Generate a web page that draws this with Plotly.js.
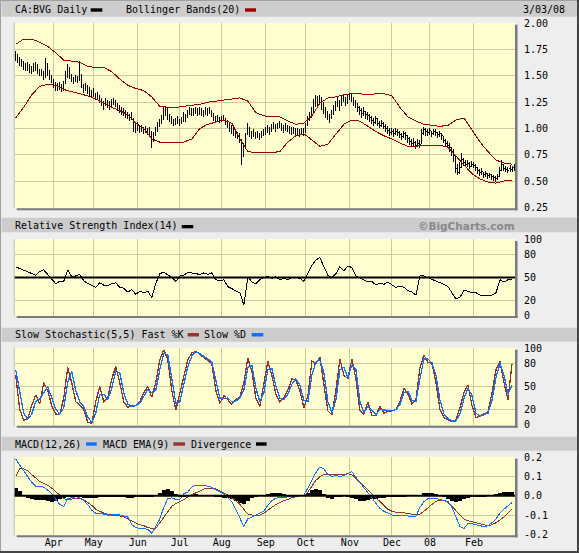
<!DOCTYPE html>
<html><head><meta charset="utf-8">
<script src="https://cdn.plot.ly/plotly-3.0.1.min.js"></script>
<style>html,body{margin:0;padding:0;background:#EEEEEE;}#chart{width:579px;height:553px;}
#chart .ohlclayer path, #chart .scatterlayer path.js-line{shape-rendering:crispEdges;}</style>
</head><body><div id="chart"></div>
<script>
// ---------- DATA ----------
const monthTickIdx = [19, 39, 61, 82, 103, 125, 145, 167, 188, 207, 229];
const monthTickText = ["Apr","May","Jun","Jul","Aug","Sep","Oct","Nov","Dec","08","Feb"];
const priceTicks = [0.25,0.5,0.75,1.0,1.25,1.5,1.75,2.0];
const priceTickText = ["0.25","0.50","0.75","1.00","1.25","1.50","1.75","2.00"];
const oscTicks = [0,20,50,80,100];
const oscTickText = ["0","20","50","80","100"];
const macdTicks = [-0.2,-0.1,0,0.1,0.2];
const macdTickText = ["-0.2","-0.1","0.0","0.1","0.2"];
const rsiMidLevel = 50;
const macdZeroLevel = 0;

const priceClose = [
1.70,1.66,1.63,1.62,1.60,1.58,1.60,1.56,1.55,1.58,
1.60,1.56,1.53,1.54,1.50,1.60,1.55,1.50,1.47,1.42,
1.40,1.39,1.41,1.38,1.40,1.50,1.57,1.52,1.48,1.45,
1.48,1.46,1.55,1.42,1.38,1.40,1.37,1.35,1.33,1.34,
1.30,1.31,1.28,1.25,1.22,1.25,1.23,1.22,1.24,1.26,
1.23,1.20,1.18,1.17,1.15,1.14,1.12,1.10,1.13,1.05,
1.00,1.03,0.99,1.00,0.98,0.99,0.97,0.98,0.88,0.93,
0.97,1.02,1.05,1.08,1.15,1.18,1.12,1.10,1.08,1.05,
1.06,1.08,1.05,1.07,1.12,1.10,1.14,1.17,1.15,1.16,
1.18,1.15,1.17,1.16,1.14,1.17,1.16,1.18,1.15,1.10,
1.09,1.11,1.08,1.09,1.10,1.07,1.04,1.01,0.99,0.97,
0.95,0.94,0.92,0.75,0.80,0.90,1.02,0.95,0.94,0.96,
0.93,0.95,0.92,0.94,0.96,0.98,1.00,0.97,1.01,1.03,
1.00,1.02,1.04,1.01,0.99,1.02,1.00,0.98,0.97,0.98,
0.96,0.97,0.95,0.97,0.96,1.02,1.08,1.12,1.15,1.22,
1.28,1.25,1.30,1.24,1.18,1.15,1.12,1.10,1.14,1.18,
1.22,1.25,1.22,1.28,1.30,1.25,1.28,1.32,1.30,1.26,
1.23,1.20,1.17,1.14,1.16,1.13,1.12,1.10,1.08,1.06,
1.09,1.05,1.03,1.05,1.02,1.00,0.98,0.96,0.97,0.95,
0.97,0.96,0.94,0.92,0.95,0.93,0.90,0.88,0.86,0.87,
0.84,0.86,0.85,0.95,0.99,0.97,0.96,0.98,0.95,0.97,
0.96,0.94,0.95,0.93,0.89,0.86,0.84,0.82,0.78,0.74,
0.62,0.58,0.63,0.70,0.68,0.66,0.67,0.64,0.66,0.65,
0.63,0.60,0.58,0.59,0.56,0.57,0.55,0.56,0.54,0.53,
0.52,0.54,0.60,0.66,0.62,0.61,0.60,0.62,0.61,0.63];
const priceHigh = [
1.74,1.71,1.68,1.66,1.64,1.62,1.63,1.61,1.59,1.62,
1.63,1.61,1.57,1.57,1.55,1.67,1.62,1.56,1.51,1.47,
1.44,1.43,1.44,1.42,1.45,1.55,1.61,1.58,1.52,1.49,
1.51,1.50,1.64,1.52,1.42,1.43,1.41,1.39,1.37,1.38,
1.34,1.35,1.32,1.29,1.26,1.29,1.27,1.26,1.28,1.29,
1.27,1.24,1.22,1.20,1.19,1.18,1.16,1.14,1.16,1.10,
1.06,1.06,1.03,1.03,1.01,1.02,1.00,1.01,0.98,0.97,
1.01,1.06,1.09,1.13,1.20,1.21,1.19,1.14,1.12,1.09,
1.10,1.12,1.09,1.11,1.16,1.14,1.18,1.20,1.19,1.19,
1.20,1.19,1.20,1.19,1.18,1.20,1.19,1.20,1.18,1.15,
1.12,1.13,1.11,1.12,1.13,1.10,1.08,1.05,1.03,1.01,
0.99,0.97,0.96,0.90,0.86,0.96,1.05,1.01,0.98,0.99,
0.97,0.98,0.96,0.98,0.99,1.01,1.03,1.01,1.04,1.06,
1.04,1.05,1.07,1.05,1.03,1.05,1.03,1.02,1.01,1.01,
1.00,1.00,0.99,1.00,1.00,1.05,1.12,1.16,1.20,1.28,
1.32,1.31,1.32,1.30,1.25,1.20,1.17,1.14,1.18,1.22,
1.26,1.30,1.27,1.32,1.33,1.30,1.32,1.34,1.34,1.30,
1.27,1.24,1.21,1.19,1.20,1.17,1.16,1.14,1.12,1.10,
1.12,1.10,1.07,1.08,1.06,1.04,1.02,1.00,1.00,0.99,
1.00,0.99,0.98,0.96,0.98,0.97,0.94,0.92,0.90,0.91,
0.88,0.90,0.89,0.99,1.01,1.00,0.99,1.00,0.98,0.99,
0.99,0.97,0.98,0.96,0.93,0.90,0.88,0.86,0.82,0.80,
0.75,0.66,0.68,0.77,0.72,0.70,0.70,0.68,0.69,0.68,
0.66,0.63,0.61,0.62,0.59,0.60,0.58,0.58,0.57,0.56,
0.55,0.57,0.63,0.70,0.66,0.64,0.63,0.65,0.64,0.66];
const priceLow = [
1.64,1.62,1.59,1.58,1.56,1.55,1.55,1.53,1.52,1.54,
1.55,1.52,1.50,1.50,1.46,1.48,1.50,1.46,1.43,1.38,
1.36,1.36,1.37,1.35,1.36,1.42,1.48,1.47,1.44,1.42,
1.44,1.43,1.45,1.38,1.34,1.36,1.33,1.31,1.29,1.30,
1.27,1.27,1.24,1.21,1.18,1.21,1.19,1.18,1.20,1.22,
1.20,1.17,1.15,1.13,1.12,1.10,1.09,1.07,1.08,0.97,
0.96,0.98,0.96,0.97,0.95,0.96,0.94,0.93,0.81,0.87,
0.93,0.97,1.01,1.04,1.08,1.12,1.08,1.06,1.04,1.02,
1.03,1.04,1.02,1.04,1.06,1.06,1.10,1.13,1.12,1.12,
1.14,1.12,1.13,1.12,1.11,1.13,1.12,1.14,1.11,1.07,
1.06,1.07,1.05,1.06,1.07,1.03,1.00,0.97,0.95,0.93,
0.91,0.90,0.86,0.65,0.73,0.82,0.94,0.92,0.90,0.92,
0.90,0.91,0.89,0.91,0.93,0.94,0.96,0.94,0.97,0.99,
0.97,0.99,1.00,0.98,0.96,0.98,0.97,0.95,0.94,0.95,
0.93,0.94,0.92,0.94,0.93,0.96,1.02,1.07,1.10,1.14,
1.20,1.20,1.24,1.18,1.14,1.10,1.08,1.05,1.09,1.13,
1.17,1.20,1.17,1.21,1.25,1.21,1.23,1.27,1.25,1.21,
1.19,1.16,1.13,1.10,1.12,1.09,1.08,1.06,1.04,1.02,
1.04,1.02,1.00,1.01,0.99,0.97,0.95,0.93,0.94,0.92,
0.94,0.93,0.91,0.89,0.91,0.89,0.86,0.84,0.82,0.83,
0.80,0.82,0.81,0.85,0.94,0.93,0.93,0.94,0.92,0.94,
0.93,0.91,0.92,0.89,0.86,0.83,0.81,0.78,0.74,0.68,
0.58,0.56,0.57,0.62,0.64,0.63,0.63,0.61,0.63,0.62,
0.60,0.57,0.55,0.56,0.53,0.54,0.52,0.53,0.51,0.50,
0.49,0.51,0.54,0.60,0.60,0.59,0.58,0.59,0.59,0.60];

// Bollinger bands, one reading every 4 trading days
const bbUpper = [1.80,1.85,1.85,1.82,1.78,1.72,1.65,1.64,1.63,1.59,1.58,1.58,1.54,1.47,1.41,1.38,1.36,1.30,1.21,1.20,
1.20,1.21,1.22,1.23,1.25,1.26,1.27,1.28,1.29,1.26,1.15,1.12,1.11,1.11,1.07,1.04,1.05,1.12,1.24,1.29,
1.30,1.32,1.33,1.33,1.32,1.33,1.33,1.31,1.20,1.11,1.07,1.04,1.03,1.02,1.03,1.08,1.10,0.99,0.87,0.78,
0.70,0.67,0.66];
const bbLower = [1.10,1.20,1.32,1.40,1.42,1.41,1.37,1.35,1.33,1.31,1.28,1.24,1.20,1.17,1.13,1.05,1.00,0.90,0.87,0.87,
0.87,0.87,0.90,1.00,1.04,1.06,1.08,1.05,0.90,0.78,0.77,0.77,0.77,0.78,0.87,0.93,0.95,0.89,0.83,0.85,
0.95,1.04,1.08,1.07,1.02,0.97,0.93,0.90,0.86,0.83,0.83,0.84,0.84,0.84,0.82,0.74,0.65,0.57,0.52,0.49,
0.48,0.50,0.51];

// Oscillators, one reading every 2 trading days
const rsi = [64,62,60,58,55,53,58,60,54,48, 42,45,45,60,51,52,54,46,42,40,
37,43,40,39,42,43,37,36,31,34, 28,32,30,32,24,42,55,57,54,50,
45,52,53,57,56,55,54,56,54,56, 47,46,47,38,35,33,30,14,51,44,
42,47,50,51,49,51,47,49,47,50, 50,49,45,55,66,73,76,64,53,50,
55,64,59,65,63,52,49,47,44,45, 40,43,41,44,40,37,39,37,33,31,
27,52,52,50,47,45,43,41,38,30, 22,24,33,32,30,30,27,26,26,27,
30,47,44,47,48];
const stochK = [65,20,6,8,25,39,27,55,45,25, 14,13,35,75,55,30,26,20,3,2,
30,50,30,35,60,76,55,30,23,25, 25,30,42,50,36,55,85,98,85,45,
19,40,65,85,94,96,92,88,84,80, 45,28,38,33,27,33,36,55,87,70,
35,24,55,83,65,40,30,35,45,60, 58,45,22,37,83,80,88,55,18,13,
45,86,65,60,86,60,18,14,30,12, 12,24,15,18,18,20,30,48,40,27,
33,75,91,82,80,55,20,9,6,4, 6,22,42,52,25,9,12,14,16,42,
72,83,55,33,80];
const stochD = [72,45,15,7,14,30,34,42,50,35, 20,14,22,55,70,45,30,24,10,3,
15,40,40,33,48,70,68,42,27,24, 25,28,37,46,42,45,72,93,92,62,
28,30,55,76,90,95,93,90,86,82, 60,35,34,35,30,31,35,45,75,78,
48,30,42,72,74,50,35,33,40,53, 60,52,32,30,65,82,85,68,30,16,
32,72,75,62,78,72,30,16,24,18, 13,20,19,18,18,20,26,42,44,32,
31,60,86,86,81,65,32,14,8,5, 5,14,34,48,38,15,11,13,15,32,
62,80,65,40,52];
const macd = [0.19,0.16,0.13,0.10,0.07,0.05,0.05,0.045,0.03,0.01,
-0.02,-0.045,-0.055,-0.015,-0.01,-0.012,-0.01,-0.025,-0.045,-0.075,
-0.09,-0.09,-0.095,-0.10,-0.10,-0.095,-0.10,-0.105,-0.11,-0.15,
-0.165,-0.17,-0.17,-0.175,-0.195,-0.16,-0.12,-0.06,-0.015,-0.01,
-0.02,-0.02,0.01,0.02,0.045,0.055,0.056,0.055,0.05,0.045,
0.03,0.02,0.01,-0.01,-0.03,-0.07,-0.12,-0.16,-0.12,-0.11,
-0.10,-0.09,-0.08,-0.05,-0.025,-0.012,-0.01,-0.008,-0.005,-0.002,
0.00,0.00,0.003,0.04,0.08,0.12,0.15,0.14,0.11,0.10,
0.105,0.10,0.105,0.115,0.125,0.095,0.07,0.045,0.02,-0.01,
-0.04,-0.065,-0.08,-0.09,-0.10,-0.10,-0.10,-0.10,-0.105,-0.105,
-0.105,-0.06,-0.03,-0.015,-0.012,-0.015,-0.018,-0.025,-0.03,-0.06,
-0.11,-0.16,-0.17,-0.145,-0.145,-0.15,-0.155,-0.16,-0.155,-0.14,
-0.12,-0.09,-0.07,-0.05,-0.035];
const macdEma = [0.10,0.14,0.14,0.13,0.11,0.09,0.075,0.065,0.055,0.04,
0.02,0.00,-0.015,-0.02,-0.015,-0.013,-0.013,-0.02,-0.035,-0.05,
-0.07,-0.08,-0.09,-0.095,-0.10,-0.10,-0.105,-0.11,-0.12,-0.13,
-0.14,-0.15,-0.155,-0.165,-0.17,-0.17,-0.14,-0.11,-0.08,-0.055,
-0.04,-0.03,-0.02,-0.005,0.005,0.015,0.025,0.035,0.04,0.04,
0.035,0.025,0.015,0.005,-0.01,-0.025,-0.045,-0.07,-0.095,-0.10,
-0.10,-0.10,-0.09,-0.075,-0.06,-0.045,-0.035,-0.025,-0.02,-0.01,
-0.005,0.00,0.00,0.02,0.05,0.08,0.10,0.11,0.11,0.11,
0.11,0.11,0.11,0.115,0.11,0.09,0.07,0.05,0.03,0.01,
-0.01,-0.035,-0.055,-0.07,-0.08,-0.085,-0.085,-0.088,-0.09,-0.095,
-0.10,-0.095,-0.08,-0.06,-0.045,-0.03,-0.022,-0.025,-0.035,-0.055,
-0.08,-0.10,-0.12,-0.13,-0.135,-0.14,-0.145,-0.15,-0.155,-0.15,
-0.14,-0.125,-0.11,-0.09,-0.07];
const macdDiv = [0.040,0.025,0.005,-0.010,-0.015,-0.020,-0.020,-0.022,-0.025,-0.030,
-0.028,-0.015,-0.010,-0.008,-0.005,-0.006,-0.008,-0.010,-0.012,-0.012,
-0.010,-0.008,-0.006,-0.005,-0.005,-0.006,-0.006,-0.008,-0.010,-0.010,
-0.008,-0.006,-0.006,-0.004,-0.004,-0.002,0.012,0.028,0.035,0.025,
0.010,-0.004,-0.006,0.002,0.006,0.008,0.006,0.004,0.002,0.000,
-0.005,-0.008,-0.010,-0.012,-0.015,-0.025,-0.035,-0.040,-0.025,-0.010,
-0.005,-0.002,0.003,0.008,0.012,0.015,0.014,0.010,0.006,0.004,
0.002,0.003,0.005,0.015,0.028,0.035,0.030,0.010,-0.010,-0.015,
-0.008,-0.004,-0.002,-0.004,-0.010,-0.018,-0.025,-0.026,-0.022,-0.018,
-0.015,-0.012,-0.010,-0.008,-0.008,-0.006,-0.005,-0.004,-0.003,-0.002,
0.000,0.006,0.012,0.015,0.012,0.008,0.004,-0.004,-0.015,-0.025,
-0.030,-0.025,-0.015,-0.010,-0.008,-0.006,-0.005,-0.004,-0.002,0.004,
0.010,0.015,0.018,0.020,0.020];

// ---------- BUILD ----------
const W = 579, H = 553;
const fx = p => p / W, fy = p => 1 - p / H;
const X0 = 14.7, X1 = 515;
const panels = [[22.7,208.3],[239,316],[347.7,425.7],[456.7,535.3]];
const dayIdx = priceClose.map((_, i) => i);
const every = (arr, step) => arr.map((_, k) => k * step);
const FONT = 'DejaVu Sans Mono, monospace';
const tickFont = {family: FONT, size: 10, color: '#000'};
const gridC = '#CCCC99';

const traces = [
  {type:'scatter', mode:'lines', x: every(bbUpper,4), y: bbUpper, xaxis:'x', yaxis:'y', line:{color:'#A00000', width:1}, hoverinfo:'skip'},
  {type:'scatter', mode:'lines', x: every(bbLower,4), y: bbLower, xaxis:'x', yaxis:'y', line:{color:'#A00000', width:1}, hoverinfo:'skip'},
  {type:'ohlc', x: dayIdx, open: priceClose, high: priceHigh, low: priceLow, close: priceClose, xaxis:'x', yaxis:'y',
   increasing:{line:{color:'#000', width:1}}, decreasing:{line:{color:'#000', width:1}}, tickwidth:0.3, hoverinfo:'skip'},
  {type:'scatter', mode:'lines', x: every(rsi,2), y: rsi, xaxis:'x2', yaxis:'y2', line:{color:'#000', width:1}, hoverinfo:'skip'},
  {type:'scatter', mode:'lines', x: every(stochK,2), y: stochK, xaxis:'x3', yaxis:'y3', line:{color:'#993333', width:1.3}, hoverinfo:'skip'},
  {type:'scatter', mode:'lines', x: every(stochD,2), y: stochD, xaxis:'x3', yaxis:'y3', line:{color:'#1070FF', width:1.3}, hoverinfo:'skip'},
  {type:'bar', x: every(macdDiv,2), y: macdDiv, width: 2, xaxis:'x4', yaxis:'y4', marker:{color:'#000', line:{width:0}}, hoverinfo:'skip'},
  {type:'scatter', mode:'lines', x: every(macdEma,2), y: macdEma, xaxis:'x4', yaxis:'y4', line:{color:'#993333', width:1}, hoverinfo:'skip'},
  {type:'scatter', mode:'lines', x: every(macd,2), y: macd, xaxis:'x4', yaxis:'y4', line:{color:'#1070FF', width:1}, hoverinfo:'skip'}
];

function xa(n, labels) {
  const a = {domain:[fx(X0), fx(X1)], range:[-0.5, 249.5], anchor: n === 1 ? 'y' : 'y' + n,
    tickmode:'array', tickvals: monthTickIdx, ticktext: monthTickText, showticklabels: labels,
    showgrid:true, gridcolor: gridC, gridwidth:1, zeroline:false, showline:false, ticks:'',
    tickfont: tickFont, fixedrange:true, rangeslider:{visible:false}};
  if (n > 1) a.matches = 'x';
  return a;
}
function ya(n, range, tv, tt) {
  const p = panels[n-1];
  return {domain:[fy(p[1]), fy(p[0])], range: range, side:'right', anchor: n === 1 ? 'x' : 'x' + n,
    tickmode:'array', tickvals: tv, ticktext: tt, showgrid:true, gridcolor: gridC, gridwidth:1,
    zeroline:false, showline:false, ticks:'outside', ticklen:6, tickcolor:'rgba(0,0,0,0)',
    tickfont: tickFont, fixedrange:true};
}

const shapes = [];
const rect = (x0,y0,x1,y1,fill,layer) => shapes.push({type:'rect', xref:'paper', yref:'paper',
  x0:fx(x0), x1:fx(x1), y0:fy(y1), y1:fy(y0), fillcolor:fill, line:{width:0}, layer: layer || 'below'});
// header bars
[[1,16.7],[217.7,232.3],[327.7,341.7],[436.7,450.7]].forEach(h => rect(1.5, h[0], 577, h[1], '#CCCCCC'));
// plot shadows
panels.forEach(p => { rect(X1, p[0]+2, X1+2.5, p[1]+2, '#7A7A7A'); rect(X0+2, p[1], X1+2.5, p[1]+2, '#7A7A7A'); rect(X0-1, p[0], X0, p[1], '#BDBDB0'); });
// outer border
rect(0, 0, 579, 1, '#A0A0A0'); rect(0, 0, 1, 553, '#A0A0A0');
rect(577, 0, 579, 553, '#444444'); rect(0, 551, 579, 553, '#444444');
// legend swatches
rect(90.7, 8.3, 102.3, 11.7, '#000');
rect(245, 8.3, 256, 11.7, '#A00000');
rect(181.7, 225, 193.3, 228.3, '#000');
rect(187.7, 333, 199, 336.5, '#993333');
rect(251.7, 333, 263.3, 336.5, '#1070FF');
rect(86, 442.3, 96.7, 445.7, '#1070FF');
rect(173.3, 442.3, 185, 445.7, '#993333');
rect(256, 442.3, 266.7, 445.7, '#000');
// reference lines
shapes.push({type:'line', xref:'paper', yref:'y2', x0:fx(X0), x1:fx(X1), y0:rsiMidLevel, y1:rsiMidLevel, line:{color:'#000', width:2}, layer:'above'});
shapes.push({type:'line', xref:'paper', yref:'y4', x0:fx(X0), x1:fx(X1), y0:macdZeroLevel, y1:macdZeroLevel, line:{color:'#000', width:2}, layer:'above'});

const hdrFont = {family: FONT, size: 10, color:'#000'};
const ann = (t, px, py, anchor, font) => ({text:t, x:fx(px), y:fy(py), xref:'paper', yref:'paper',
  xanchor: anchor || 'left', yanchor:'middle', showarrow:false, borderpad:0, font: font || hdrFont});
const annotations = [
  ann('CA:BVG Daily', 13.5, 9.3),
  ann('Bollinger Bands(20)', 124.5, 9.3),
  ann('3/03/08', 566, 9.3, 'right'),
  ann('Relative Strength Index(14)', 13.5, 225.5),
  ann('©BigCharts.com', 515.5, 225.5, 'right', {family:'DejaVu Sans, sans-serif', size:10.5, color:'#888888', weight:'bold'}),
  ann('Slow Stochastic(5,5) Fast %K', 13.5, 334.5),
  ann('Slow %D', 203, 334.5),
  ann('MACD(12,26)', 13.5, 444),
  ann('MACD EMA(9)', 101.5, 444),
  ann('Divergence', 189.5, 444)
];

const layout = {
  width: W, height: H, margin:{l:0, r:0, t:0, b:0}, paper_bgcolor:'#EEEEEE', plot_bgcolor:'#FFFFD2',
  showlegend:false, hovermode:false, bargap:0, dragmode:false,
  xaxis: xa(1,false), xaxis2: xa(2,false), xaxis3: xa(3,false), xaxis4: xa(4,true),
  yaxis: ya(1, [0.2405, 2.0057], priceTicks, priceTickText),
  yaxis2: ya(2, [-0.4, 100.4], oscTicks, oscTickText),
  yaxis3: ya(3, [-1.3, 100.8], oscTicks, oscTickText),
  yaxis4: ya(4, [-0.2052, 0.2031], macdTicks, macdTickText),
  shapes: shapes, annotations: annotations
};
Plotly.newPlot('chart', traces, layout, {staticPlot:true, displayModeBar:false});
</script></body></html>
